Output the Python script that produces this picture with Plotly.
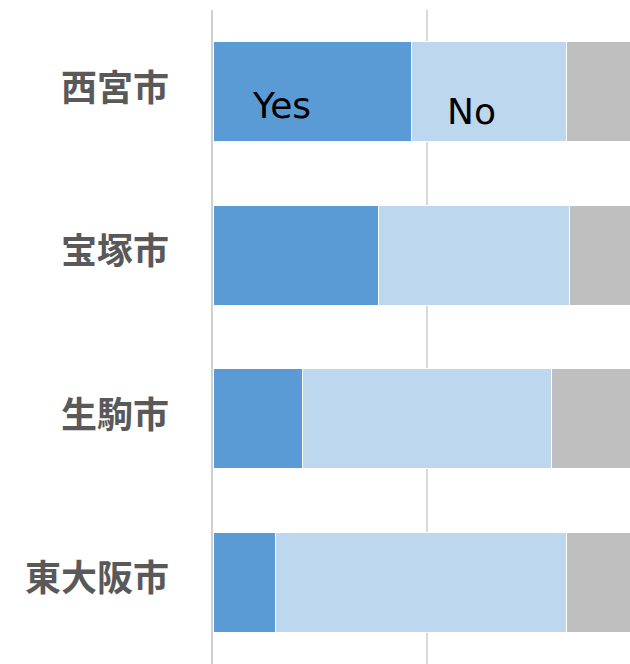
import plotly.graph_objects as go

categories = ["西宮市", "宝塚市", "生駒市", "東大阪市"]
yes_vals = [46.3, 38.6, 21.0, 14.5]
no_vals = [36.2, 44.6, 58.2, 68.0]
other_vals = [17.5, 16.8, 20.8, 17.5]

colors = {"Yes": "#5b9bd5", "No": "#bdd7ee", "Other": "#bfbfbf"}

fig = go.Figure()
for name, vals in [("Yes", yes_vals), ("No", no_vals), ("Other", other_vals)]:
    fig.add_trace(go.Bar(
        y=categories, x=vals, orientation="h", name=name,
        marker=dict(color=colors[name], line=dict(color="white", width=1)),
        hoverinfo="skip",
    ))

fig.add_annotation(x=16.1, y=categories[0], text="Yes", showarrow=False,
                   xref="x", yref="y", yshift=-14,
                   font=dict(family="DejaVu Sans", size=36, color="black"))
fig.add_annotation(x=60.3, y=categories[0], text="No", showarrow=False,
                   xref="x", yref="y", yshift=-20,
                   font=dict(family="DejaVu Sans", size=36, color="black"))

for c in categories:
    fig.add_annotation(x=0, y=c, text=c, showarrow=False, xref="x", yref="y",
                       xanchor="right", xshift=-42, yshift=7,
                       font=dict(family="Noto Sans CJK JP", size=36, color="#595959",
                                 weight="bold"))

fig.update_layout(
    width=630, height=664,
    barmode="stack", bargap=0.39,
    showlegend=False,
    plot_bgcolor="white", paper_bgcolor="white",
    margin=dict(l=213, r=0, t=10, b=0),
    xaxis=dict(range=[0, 97.43], dtick=50, showgrid=True, gridcolor="#d9d9d9",
               gridwidth=1.5, zeroline=False, showticklabels=False,
               showline=False, fixedrange=True),
    yaxis=dict(categoryorder="array", categoryarray=categories, autorange="reversed",
               showgrid=False, zeroline=False, ticks="", showticklabels=False,
               showline=True, linecolor="#d0d0d0", linewidth=2, fixedrange=True),
)

fig.write_html("out.html", config={"displayModeBar": False},
               post_script="document.body.style.margin='0';document.body.style.overflow='hidden';")
